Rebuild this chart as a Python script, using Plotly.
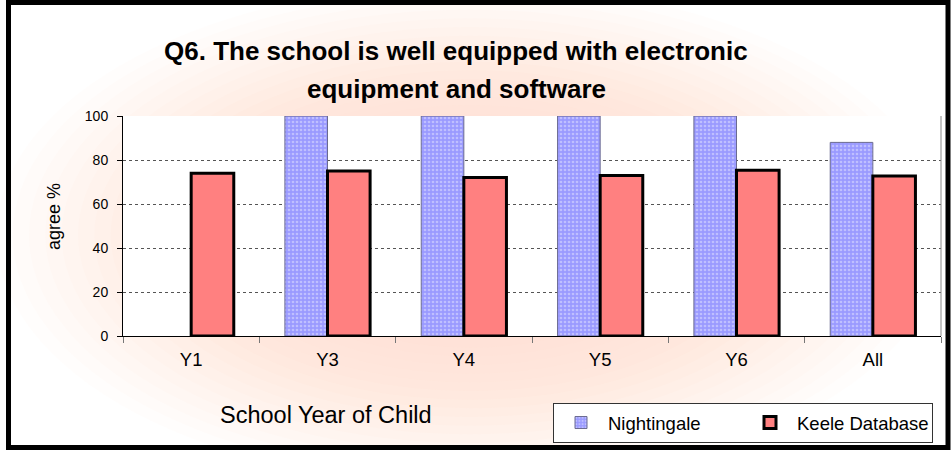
import plotly.graph_objects as go

categories = ["Y1", "Y3", "Y4", "Y5", "Y6", "All"]
nightingale = [None, 100, 100, 100, 100, 88]
keele = [74, 75, 72, 73, 75.3, 72.7]
y_ticks = [0, 20, 40, 60, 80, 100]

W, H = 951, 450
FONT = "Arial, Liberation Sans, sans-serif"

def px_x(x):
    return x / W

def px_y(y):
    return 1 - y / H

fig = go.Figure()
fig.add_trace(go.Bar(
    name="Nightingale", x=categories, y=nightingale,
    marker=dict(color="#9E9EFF",
                line=dict(color="#6A6A90", width=1),
                pattern=dict(shape=".", fgcolor="#E4E4FF", bgcolor="#9A9AFF", size=4, solidity=0.35)),
))
fig.add_trace(go.Bar(
    name="Keele Database", x=categories, y=keele,
    marker=dict(color="#FF8080", line=dict(color="black", width=3)),
))

# background glow (concentric ellipses approximating a radial gradient)
shapes = []
cx, cy, rx, ry = 470, 235, 490, 260
N = 30
prev = 0.0
for i in range(N):
    r = 1 - i / N
    target = 0.55 * (1 - r ** 2)
    a = 1 - (1 - target) / (1 - prev) if prev < 1 else 0
    prev = target
    if a <= 0:
        continue
    shapes.append(dict(type="circle", xref="paper", yref="paper", layer="below",
                       x0=px_x(cx - rx * r), x1=px_x(cx + rx * r),
                       y0=px_y(cy + ry * r), y1=px_y(cy - ry * r),
                       line=dict(width=0), fillcolor=f"rgba(250,212,178,{a:.4f})"))

x0d, x1d = 123 / W, 941 / W
y0d, y1d = 1 - 336 / H, 1 - 116 / H
# white plot area
shapes.append(dict(type="rect", xref="paper", yref="paper", layer="below",
                   x0=x0d, x1=x1d, y0=y0d, y1=y1d, line=dict(width=0), fillcolor="white"))
# right edge of plot area
shapes.append(dict(type="line", xref="paper", yref="paper", layer="above",
                   x0=x1d, x1=x1d, y0=y0d, y1=y1d, line=dict(color="#888888", width=1)))
# outer frame
shapes.append(dict(type="rect", xref="paper", yref="paper", layer="above",
                   x0=px_x(8.5), x1=px_x(948), y0=px_y(447.5), y1=px_y(2.5),
                   line=dict(color="black", width=5)))

annotations = [
    dict(text="<b>Q6. The school is well equipped with electronic</b>", x=px_x(456), y=px_y(51),
         xref="paper", yref="paper", showarrow=False, xanchor="center", yanchor="middle",
         font=dict(family=FONT, size=26, color="black")),
    dict(text="<b>equipment and software</b>", x=px_x(456), y=px_y(89),
         xref="paper", yref="paper", showarrow=False, xanchor="center", yanchor="middle",
         font=dict(family=FONT, size=26, color="black")),
    dict(text="agree %", x=px_x(54), y=px_y(217), textangle=-90,
         xref="paper", yref="paper", showarrow=False, xanchor="center", yanchor="middle",
         font=dict(family=FONT, size=18, color="black")),
    dict(text="School Year of Child", x=px_x(326), y=px_y(415),
         xref="paper", yref="paper", showarrow=False, xanchor="center", yanchor="middle",
         font=dict(family=FONT, size=23.5, color="black")),
]

fig.update_layout(
    width=W, height=H,
    margin=dict(l=0, r=0, t=0, b=0, autoexpand=False),
    paper_bgcolor="white", plot_bgcolor="rgba(0,0,0,0)",
    barmode="group", bargap=0.375, bargroupgap=0,
    font=dict(family=FONT, color="black"),
    shapes=shapes, annotations=annotations,
    legend=dict(orientation="h", x=px_x(553), y=px_y(403), xanchor="left", yanchor="top",
                bgcolor="white", bordercolor="#333333", borderwidth=1,
                font=dict(family=FONT, size=18.5, color="black"),
                entrywidth=130, itemwidth=44),
    xaxis=dict(domain=[x0d, x1d], showline=True, linecolor="black", linewidth=1,
               ticks="outside", tickson="boundaries", ticklen=6, tickcolor="#777777",
               tickfont=dict(family=FONT, size=18.5, color="black"), ticklabelstandoff=7,
               showgrid=False),
    yaxis=dict(domain=[y0d, y1d], range=[0, 100], tickvals=y_ticks,
               showline=True, linecolor="black", linewidth=1,
               ticks="outside", ticklen=5, tickcolor="black",
               tickfont=dict(family=FONT, size=14, color="black"), ticklabelstandoff=6,
               showgrid=True, gridcolor="#555555", gridwidth=1, griddash="dot",
               zeroline=False),
)

fig.write_html("out.html", config={"displayModeBar": False},
               post_script="document.body.style.margin='0px';document.body.style.overflow='hidden';")
